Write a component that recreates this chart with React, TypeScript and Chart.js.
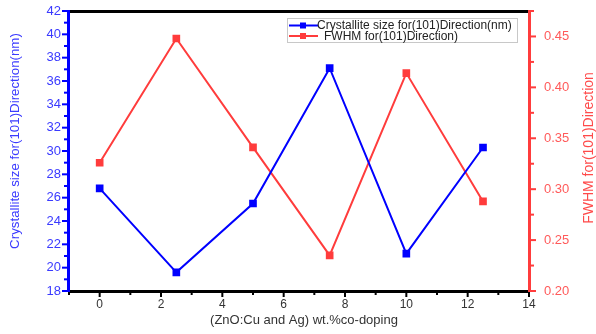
import React, { useEffect, useRef } from "react";
import { Chart, registerables } from "chart.js";
Chart.register(...registerables);

const xValues = [0, 2.5, 5, 7.5, 10, 12.5];
const crystalliteSize = [26.8, 19.6, 25.5, 37.1, 21.2, 30.3];
const fwhm = [0.326, 0.448, 0.341, 0.235, 0.414, 0.288];
const seriesNames = ["Crystallite size for(101)Direction(nm)", "FWHM for(101)Direction)"];
const xTitle = "(ZnO:Cu and Ag) wt.%co-doping";
const yLeftTitle = "Crystallite size for(101)Direction(nm)";
const yRightTitle = "FWHM for(101)Direction";

const BLUE = "#0000ff";
const RED = "#ff3c3c";
const FONT = "Liberation Sans, Arial, sans-serif";

const decor = {
  id: "decor",
  afterDraw(chart: any) {
    const ctx = chart.ctx;
    const a = chart.chartArea;
    const x = chart.scales.x, yl = chart.scales.y, yr = chart.scales.y2;
    ctx.save();
    ctx.fillStyle = "#000";
    ctx.fillRect(a.left, a.top - 1, a.right - a.left, 3);
    ctx.fillRect(a.left, a.bottom - 1, a.right - a.left, 3);
    x.ticks.forEach((t: any) => {
      const px = x.getPixelForValue(t.value);
      const major = Math.round(t.value) % 2 === 0;
      ctx.fillRect(px - 1, a.bottom + 1, 2, major ? 5 : 3);
    });
    ctx.fillStyle = BLUE;
    ctx.fillRect(a.left - 2, a.top - 1, 3, a.bottom - a.top + 2);
    yl.ticks.forEach((t: any) => {
      const py = yl.getPixelForValue(t.value);
      const major = Math.round(t.value) % 2 === 0;
      ctx.fillRect(a.left - (major ? 7 : 5), py - 1, major ? 6 : 4, 2);
    });
    ctx.fillStyle = RED;
    ctx.fillRect(a.right - 1, a.top - 1, 3, a.bottom - a.top + 2);
    yr.ticks.forEach((t: any) => {
      const py = yr.getPixelForValue(t.value);
      const major = Math.round(t.value * 1000) % 50 === 0;
      ctx.fillRect(a.right + 1, py - 1, major ? 6 : 4, 2);
    });
    ctx.font = "13px " + FONT;
    ctx.textAlign = "center";
    ctx.textBaseline = "middle";
    ctx.fillStyle = "#333";
    ctx.fillText(xTitle, (a.left + a.right) / 2 + 5, 320);
    ctx.save();
    ctx.translate(15, 141);
    ctx.rotate(-Math.PI / 2);
    ctx.fillStyle = "#3a3aff";
    ctx.font = "13.3px " + FONT;
    ctx.fillText(yLeftTitle, 0, 0);
    ctx.restore();
    ctx.save();
    ctx.translate(589, 148);
    ctx.rotate(-Math.PI / 2);
    ctx.fillStyle = "#ff4a4a";
    ctx.font = "14px " + FONT;
    ctx.fillText(yRightTitle, 0, 0);
    ctx.restore();
    // legend
    ctx.fillStyle = "#fff";
    ctx.fillRect(287, 18, 231, 25);
    ctx.strokeStyle = "#c8c8c8";
    ctx.lineWidth = 1;
    ctx.strokeRect(287.5, 18.5, 230, 24);
    const rows = [
      { c: BLUE, t: seriesNames[0], y: 25.5, x0: 289, x1: 318, tx: 317 },
      { c: RED, t: seriesNames[1], y: 36, x0: 289, x1: 318, tx: 324 },
    ];
    ctx.font = "12px " + FONT;
    ctx.textAlign = "left";
    rows.forEach((r) => {
      ctx.strokeStyle = r.c;
      ctx.lineWidth = 2;
      ctx.beginPath();
      ctx.moveTo(r.x0, r.y);
      ctx.lineTo(r.x1, r.y);
      ctx.stroke();
      ctx.fillStyle = r.c;
      ctx.fillRect(300, r.y - 3, 6, 6);
      ctx.fillStyle = "#222";
      ctx.fillText(r.t, r.tx, r.y + 0.5);
    });
    ctx.restore();
  },
};

const zeroPad = (s: any) => { s.paddingTop = 0; s.paddingBottom = 0; s.paddingLeft = 0; s.paddingRight = 0; };

export default function App() {
  const ref = useRef<HTMLCanvasElement>(null);
  useEffect(() => {
    const chart = new Chart(ref.current!, {
      type: "line",
      data: {
        datasets: [
          {
            label: seriesNames[0],
            data: xValues.map((x, i) => ({ x, y: crystalliteSize[i] })),
            borderColor: BLUE,
            backgroundColor: BLUE,
            borderWidth: 2,
            pointStyle: "rect",
            pointRadius: 4,
            yAxisID: "y",
          },
          {
            label: seriesNames[1],
            data: xValues.map((x, i) => ({ x, y: fwhm[i] })),
            borderColor: RED,
            backgroundColor: RED,
            borderWidth: 2,
            pointStyle: "rect",
            pointRadius: 4,
            yAxisID: "y2",
          },
        ],
      },
      options: {
        animation: false,
        responsive: false,
        layout: { padding: { top: 11, left: 0, right: 0, bottom: 0 } },
        plugins: { legend: { display: false }, tooltip: { enabled: false } },
        scales: {
          x: {
            type: "linear",
            min: -1,
            max: 14,
            grid: { display: false, drawTicks: false },
            border: { display: false },
            ticks: {
              stepSize: 1,
              padding: 6,
              color: "#333",
              font: { size: 12, family: FONT },
              callback: (v: any) => (Math.round(v) % 2 === 0 ? String(v) : ""),
              autoSkip: false,
              maxRotation: 0,
            },
            afterFit: (s: any) => { s.height = 43; zeroPad(s); },
          },
          y: {
            position: "left",
            min: 18,
            max: 42,
            grid: { display: false, drawTicks: false },
            border: { display: false },
            ticks: {
              stepSize: 1,
              padding: 8,
              color: "#3a3aff",
              font: { size: 13, family: FONT },
              callback: (v: any) => (Math.round(v) % 2 === 0 ? String(v) : ""),
              autoSkip: false,
            },
            afterFit: (s: any) => { s.width = 69; zeroPad(s); },
          },
          y2: {
            position: "right",
            min: 0.2,
            max: 0.475,
            grid: { display: false, drawTicks: false },
            border: { display: false },
            ticks: {
              stepSize: 0.025,
              padding: 15,
              color: "#ff5a5a",
              font: { size: 13, family: FONT },
              callback: (v: any) => (Math.round(v * 1000) % 50 === 0 ? Number(v).toFixed(2) : ""),
              autoSkip: false,
            },
            afterFit: (s: any) => { s.width = 67; zeroPad(s); },
          },
        },
      },
      plugins: [decor],
    } as any);
    return () => chart.destroy();
  }, []);
  return (
    <div style={{ position: "fixed", left: 0, top: 0, width: 596, height: 334, background: "#fff" }}>
      <canvas ref={ref} width={596} height={334} style={{ width: 596, height: 334 }} />
    </div>
  );
}
